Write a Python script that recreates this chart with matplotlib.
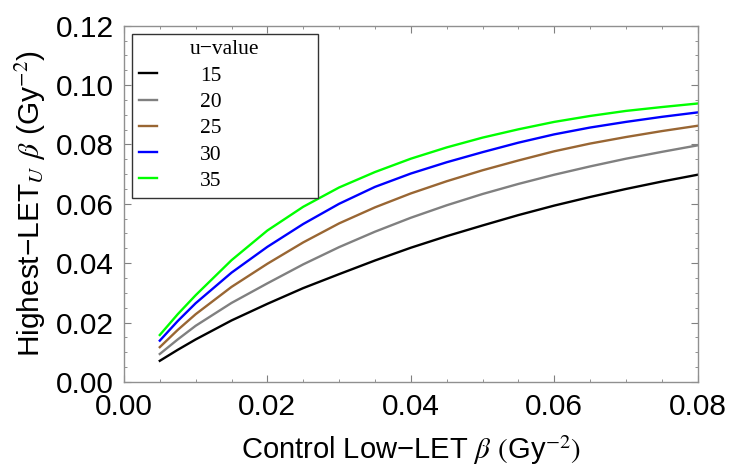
import matplotlib
matplotlib.use("Agg")
import matplotlib.pyplot as plt
import numpy as np

plt.rcParams["font.family"] = ["Liberation Sans", "DejaVu Sans"]
plt.rcParams["mathtext.fontset"] = "stix"

# values
beta_low = [0.005, 0.0075, 0.01, 0.015, 0.02, 0.025, 0.03, 0.035, 0.04,
            0.045, 0.05, 0.055, 0.06, 0.065, 0.07, 0.075, 0.08]
u_values = ["15", "20", "25", "30", "35"]
beta_u15 = [0.0071, 0.0108, 0.0143, 0.0207, 0.0263, 0.0316, 0.0363, 0.0409, 0.0452,
            0.0491, 0.0527, 0.0562, 0.0594, 0.0623, 0.0650, 0.0675, 0.0698]
beta_u20 = [0.0094, 0.0143, 0.0189, 0.0266, 0.0332, 0.0396, 0.0454, 0.0506, 0.0553,
            0.0595, 0.0633, 0.0667, 0.0698, 0.0726, 0.0752, 0.0775, 0.0797]
beta_u25 = [0.0117, 0.0175, 0.0228, 0.0320, 0.0398, 0.0470, 0.0534, 0.0588, 0.0635,
            0.0676, 0.0713, 0.0746, 0.0777, 0.0803, 0.0825, 0.0845, 0.0863]
beta_u30 = [0.0139, 0.0205, 0.0265, 0.0368, 0.0455, 0.0532, 0.0600, 0.0657, 0.0702,
            0.0740, 0.0774, 0.0806, 0.0834, 0.0857, 0.0876, 0.0893, 0.0908]
beta_u35 = [0.0158, 0.0228, 0.0292, 0.0410, 0.0510, 0.0590, 0.0655, 0.0707, 0.0752,
            0.0790, 0.0823, 0.0851, 0.0876, 0.0896, 0.0913, 0.0926, 0.0938]
series = [beta_u15, beta_u20, beta_u25, beta_u30, beta_u35]
colors = ["#000000", "#808080", "#996633", "#0000ff", "#00ff00"]

fig = plt.figure(figsize=(7.29, 4.68), dpi=100)
ax = fig.add_axes([0.170, 0.184, 0.787, 0.761])

for vals, c, lab in zip(series, colors, u_values):
    ax.plot(beta_low, vals, color=c, lw=1.7, label=lab)

ax.set_xlim(0, 0.08)
ax.set_ylim(0, 0.12)
ax.set_xticks(np.arange(0, 0.0801, 0.02))
ax.set_yticks(np.arange(0, 0.1201, 0.02))
ax.set_xticks(np.arange(0, 0.0801, 0.005), minor=True)
ax.set_yticks(np.arange(0, 0.1201, 0.005), minor=True)
ax.xaxis.set_major_formatter(matplotlib.ticker.FormatStrFormatter("%.2f"))
ax.yaxis.set_major_formatter(matplotlib.ticker.FormatStrFormatter("%.2f"))
ax.tick_params(which="both", direction="in", top=True, right=True,
               color="#808080", labelsize=21.5)
ax.tick_params(axis="y", which="major", length=5, width=0.8, pad=7)
ax.tick_params(axis="x", which="major", length=5, width=0.8, pad=8)
ax.tick_params(which="minor", length=2.5, width=0.6)
for s in ax.spines.values():
    s.set_color("#909090")
    s.set_linewidth(1.0)

ax.set_xlabel("Control Low\u2212LET $\\beta$ $($Gy$^{-2})$", fontsize=21, labelpad=9)
ax.set_ylabel("Highest\u2212LET$_{\\mathit{U}}$ $\\beta$ (Gy$^{-2}$)", fontsize=21.5,
              labelpad=6)

leg = ax.legend(loc="upper left", bbox_to_anchor=(0.014, 0.978, 0.324, 0.0),
                mode="expand", borderaxespad=0, title="u\u2212value",
                prop={"family": "Liberation Serif", "size": 15.5},
                handlelength=0.85, handletextpad=2.0, labelspacing=0.29,
                borderpad=0.32, fancybox=False, framealpha=1)
leg.get_title().set_fontfamily("Liberation Serif")
leg.get_title().set_fontsize(15.5)
leg.get_frame().set_edgecolor("#333333")
leg.get_frame().set_linewidth(1.0)

fig.savefig("out.png", dpi=100)
